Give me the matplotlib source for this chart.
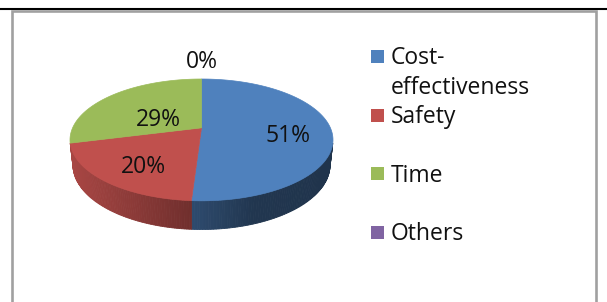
import numpy as np
import matplotlib.pyplot as plt
from matplotlib.patches import Polygon, Rectangle
from matplotlib.colors import to_rgb

# data
labels = ['Cost-\neffectiveness', 'Safety', 'Time', 'Others']
values = [51, 20, 29, 0]
colors = ['#4F81BD', '#C0504D', '#9BBB59', '#8064A2']
label_r = [0.67, 0.64, 0.45, 1.65]   # where the % text sits, in radii

plt.rcParams['font.family'] = ['Open Sans', 'DejaVu Sans']

fig = plt.figure(figsize=(6.07, 3.02), dpi=100)
ax = fig.add_axes([0, 0, 1, 1])
ax.set_xlim(0, 607)
ax.set_ylim(302, 0)
ax.axis('off')

# frame: black rule on top, grey chart border
ax.plot([0, 607], [8.5, 8.5], color='black', lw=1.5, solid_capstyle='butt')
ax.plot([12, 12, 596, 596], [302, 10.5, 10.5, 302], color='#a0a0a0', lw=1.9,
        solid_joinstyle='miter')

# --- 3d pie with a simple perspective camera ---
elev = np.radians(27.0)
dist = 4.5          # camera distance in pie radii
thick = 0.22        # pie thickness in radii
cam = np.array([0.0, -dist * np.cos(elev), dist * np.sin(elev)])
vdir = -cam / np.linalg.norm(cam)
up = np.array([0.0, np.sin(elev), np.cos(elev)])

def proj3(P):
    q = np.atleast_2d(P) - cam
    d = q @ vdir
    return q[:, 0] / d, (q @ up) / d

def circ(t, z=0.0, r=1.0):
    t = np.atleast_1d(t)
    return np.stack([r * np.cos(t), r * np.sin(t), np.full_like(t, z)], axis=1)

# fit the top face into its pixel box (uniform scale)
ex, ey = proj3(circ(np.linspace(-np.pi, np.pi, 721)))
left_px, right_px, top_px = 70, 333, 79
sc = (right_px - left_px) / (ex.max() - ex.min())

def to_px(x, y):
    return left_px + (x - ex.min()) * sc, top_px + (ey.max() - y) * sc

def pt(t, z=0.0, r=1.0):
    return to_px(*proj3(circ(t, z, r)))

apx, apy = to_px(*proj3(np.zeros(3)))
apx, apy = apx[0], apy[0]

def shade(x):
    u = (x - apx) / ((right_px - left_px) / 2)
    return np.interp(u, [-1, 0, 0.4, 1], [0.88, 0.56, 0.42, 0.40])

fr = np.array(values, dtype=float) / sum(values)
ends = np.pi / 2 - 2 * np.pi * np.cumsum(fr)
starts = np.concatenate([[np.pi / 2], ends[:-1]])

# side walls: visible where the outward normal faces the camera
lim = np.arcsin(1.0 / (dist * np.cos(elev)))
vis_lo, vis_hi = -np.pi + lim, -lim
for s, e, c in zip(starts, ends, colors):
    lo, hi = max(e, vis_lo), min(s, vis_hi)
    if hi <= lo:
        continue
    base = np.array(to_rgb(c))
    th = np.linspace(lo, hi, 80)
    xt, yt = pt(th)
    xb, yb = pt(th, -thick)
    for k in range(len(th) - 1):
        col = np.clip(base * shade((xt[k] + xt[k + 1]) / 2), 0, 1)
        ax.add_patch(Polygon([(xt[k], yt[k]), (xt[k + 1], yt[k + 1]),
                              (xb[k + 1], yb[k + 1]), (xb[k], yb[k])],
                             closed=True, fc=col, ec=col, lw=0.6))

# top faces
for s, e, c in zip(starts, ends, colors):
    if s == e:
        continue
    xs, ys = pt(np.linspace(s, e, 120))
    verts = [(apx, apy)] + list(zip(xs, ys))
    ax.add_patch(Polygon(verts, closed=True, fc=c, ec=c, lw=0.5))

# percent labels
for s, e, v, r in zip(starts, ends, values, label_r):
    m = (s + e) / 2
    x, y = pt(m, 0.0, r)
    ax.text(x[0], y[0] + 13, f'{v}%', ha='center', va='baseline', fontsize=16.5,
            color='#111111')

# legend
for i, (lab, c) in enumerate(zip(labels, colors)):
    y = 56.5 + i * 58.6
    ax.add_patch(Rectangle((371, y - 6.5), 13, 13, fc=c, ec='none'))
    for j, line in enumerate(lab.split('\n')):
        ax.text(391, y + 8 + j * 30, line, ha='left', va='baseline',
                fontsize=16.5, color='#111111')

fig.savefig('out.png', dpi=100)
